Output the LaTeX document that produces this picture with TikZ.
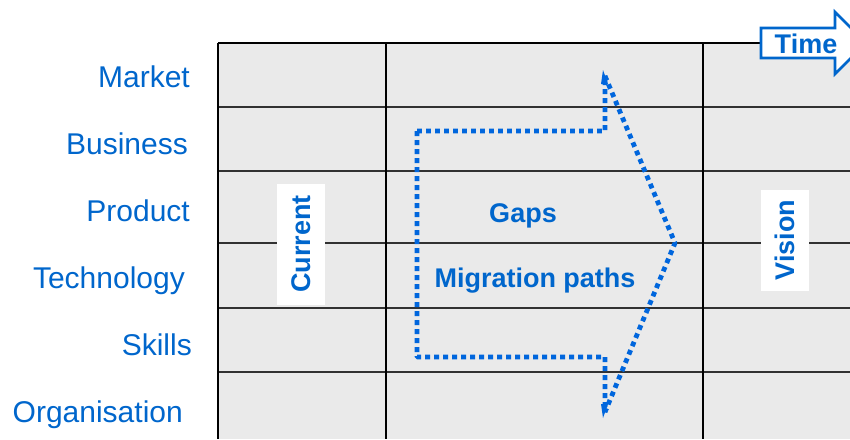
\documentclass[tikz,border=0pt]{standalone}
\usepackage{fontspec}
\setmainfont{Liberation Sans}
\definecolor{labelblue}{RGB}{0,102,204}
\definecolor{pathblue}{RGB}{0,102,221}
\definecolor{cellgray}{RGB}{234,234,234}
\definecolor{rulegray}{RGB}{50,50,50}
\tikzset{
  rowlabel/.style={anchor=base east, inner sep=0pt, text=labelblue,
    font=\fontsize{30}{35}\selectfont},
  boldtext/.style={inner sep=0pt, text=labelblue,
    font=\bfseries\fontsize{27}{32}\selectfont},
  stagebox/.style={boldtext, fill=white, rotate=90, minimum height=48pt},
  gridline/.style={line width=1.6pt, black},
  rowline/.style={line width=2pt, rulegray},
  migration/.style={pathblue, line width=4.8pt, dash pattern=on 4.8pt off 4.2pt,
    line join=bevel},
}
\begin{document}
\begin{tikzpicture}[x=1pt,y=-1pt]
\useasboundingbox (0,0) rectangle (850,439);

% grid background and rules
\fill[cellgray] (218,43) rectangle (850,439);
\foreach \yy in {107,171,243,308,372}
  \draw[rowline] (218,\yy) -- (850,\yy);
\draw[gridline] (218,43) -- (850,43);
\foreach \xx in {218,386,703}
  \draw[gridline] (\xx,43) -- (\xx,439);

% row labels
\node[rowlabel] (market) at (190,87) {Market};
\node[rowlabel] (business) at (188,154) {Business};
\node[rowlabel] (product) at (190,221) {Product};
\node[rowlabel] (technology) at (185,288) {Technology};
\node[rowlabel] (skills) at (192,355) {Skills};
\node[rowlabel] (organisation) at (183,422) {Organisation};

% current and vision columns
\node[stagebox, minimum width=121pt] (current) at (301,244) {Current};
\node[stagebox, minimum width=101pt] (vision) at (785,240) {Vision};

% dotted migration arrow
\draw[migration] (417,131) -- (605,131) -- (605,76) -- (675,243) -- (605,412)
  -- (605,357) -- (417,357) -- cycle;
\fill[pathblue] (603,70) -- (601,84) -- (608,84) -- cycle;
\fill[pathblue] (603,418) -- (601,404) -- (608,404) -- cycle;

\node[boldtext, anchor=base] (gaps) at (523,222) {Gaps};
\node[boldtext, anchor=base] (paths) at (535,287) {Migration paths};

% time arrow
\draw[labelblue, line width=2.6pt, fill=white, line join=miter]
  (761,28) -- (835,28) -- (835,12) -- (866,43) -- (835,74) -- (835,58)
  -- (761,58) -- cycle;
\node[boldtext] (time) at (806,44) {Time};
\end{tikzpicture}
\end{document}
